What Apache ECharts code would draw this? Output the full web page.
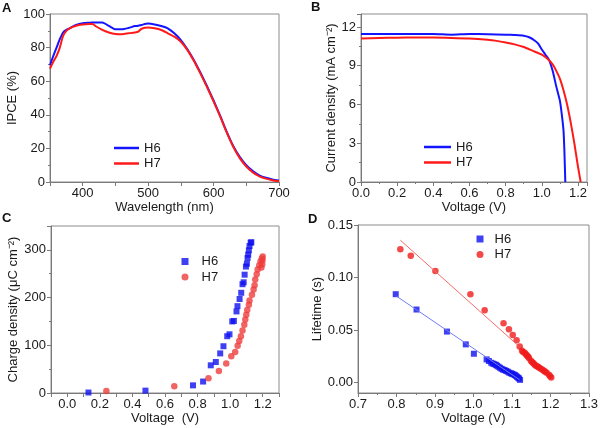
<!DOCTYPE html>
<html>
<head>
<meta charset="utf-8">
<title>IPCE / J-V / charge / lifetime</title>
<script src="https://cdn.jsdelivr.net/npm/echarts@6/dist/echarts.min.js"></script>
<style>
  html, body { margin: 0; padding: 0; background: #fff; }
  #chart { width: 600px; height: 428px; }
</style>
</head>
<body>
<div id="chart"></div>
<script>
// ---- A: IPCE spectra
var wavelength = [350, 355, 360, 365, 370, 375, 380, 390, 400, 410, 415, 420, 430, 440, 450, 460, 470, 480, 485, 490,
  500, 510, 520, 530, 540, 550, 560, 570, 580, 590, 600, 610, 620, 630, 640, 650, 660, 670, 680, 690, 700];
var ipceH6 = [69.5, 75, 80, 85, 89, 90.5, 91.5, 93.5, 94.5, 94.8, 94.9, 94.9, 94.9, 92.9, 90.9, 90.9, 91.7, 92.8, 93, 93.5,
  94.3, 93.8, 92.9, 91.5, 88.5, 84.5, 79, 72.5, 65, 57, 48.5, 39.5, 30, 21.5, 15, 10, 6.5, 4, 2.5, 1.5, 0.9];
var ipceH7 = [67.5, 71.5, 75, 80, 87, 90, 91.5, 93, 93.7, 94, 94, 92.7, 90.5, 89, 88.1, 88, 88.5, 89, 89.5, 91.2,
  92, 91.5, 90.5, 88.5, 86.5, 83.5, 78.5, 72, 64.5, 56.5, 48, 39, 29.5, 21, 14.2, 9.2, 5.7, 3.4, 2, 1.1, 0.5];

// ---- B: J-V curves
var jvVoltH6 = [0, 0.1, 0.2, 0.3, 0.4, 0.5, 0.6, 0.7, 0.8, 0.85, 0.9, 0.93, 0.96, 0.98, 1.0, 1.02, 1.04, 1.06, 1.08, 1.1, 1.11, 1.12, 1.125, 1.13];
var jvCurH6 = [11.45, 11.45, 11.46, 11.45, 11.45, 11.4, 11.45, 11.44, 11.4, 11.37, 11.32, 11.2, 10.95, 10.7, 10.25, 9.85, 9.45, 8.6, 7.4, 6.3, 5.3, 4.0, 2.4, 0];
var jvVoltH7 = [0, 0.1, 0.2, 0.3, 0.4, 0.5, 0.6, 0.7, 0.75, 0.8, 0.85, 0.9, 0.95, 1.0, 1.03, 1.06, 1.08, 1.1, 1.12, 1.14, 1.16, 1.18, 1.2, 1.215];
var jvCurH7 = [11.1, 11.15, 11.17, 11.18, 11.18, 11.15, 11.1, 11.0, 10.92, 10.8, 10.65, 10.45, 10.15, 9.85, 9.55, 9.1, 8.6, 8.0, 7.1, 6.0, 4.6, 3.0, 1.2, 0];

// ---- C: charge density
var chgVoltH6 = [0.13, 0.48, 0.772, 0.834, 0.881, 0.912, 0.939, 0.959, 0.982, 0.996, 1.013, 1.023, 1.039, 1.045, 1.058, 1.068,
  1.076, 1.083, 1.089, 1.097, 1.103, 1.107, 1.111, 1.115, 1.119, 1.126, 1.13];
var chgH6 = [1, 5, 16, 24, 58, 65, 83, 98, 119, 123, 150, 151, 171, 182, 197, 210, 228, 232, 248, 265, 271, 283, 290, 299, 308, 315, 316];
var chgVoltH7 = [0.24, 0.657, 0.867, 0.931, 0.976, 1.007, 1.031, 1.046, 1.056, 1.066, 1.076, 1.087, 1.093, 1.099, 1.105, 1.115,
  1.119, 1.134, 1.144, 1.15, 1.154, 1.163, 1.169, 1.179, 1.187, 1.192, 1.195, 1.197, 1.199, 1.2];
var chgH7 = [4, 14, 31, 46, 62, 77, 86, 99, 109, 119, 131, 143, 154, 164, 174, 185, 194, 206, 217, 226, 238, 249, 259, 268, 276,
  263, 282, 270, 278, 286];

// ---- D: electron lifetime
var lifeVoltH6 = [0.798, 0.852, 0.931, 0.98, 1.001, 1.034, 1.04, 1.046, 1.05, 1.054, 1.058, 1.061, 1.065, 1.069, 1.073, 1.077,
  1.081, 1.085, 1.089, 1.093, 1.097, 1.1, 1.104, 1.107, 1.11, 1.113, 1.116, 1.118, 1.121];
var lifeH6 = [0.0841, 0.0695, 0.0485, 0.0363, 0.0274, 0.022, 0.0205, 0.0188, 0.018, 0.0175, 0.0168, 0.016, 0.015, 0.014, 0.013,
  0.0122, 0.0118, 0.011, 0.0103, 0.0093, 0.0088, 0.0083, 0.0078, 0.0071, 0.0064, 0.0054, 0.0046, 0.0038, 0.0025];
var lifeVoltH7 = [0.81, 0.837, 0.901, 0.992, 1.029, 1.078, 1.092, 1.102, 1.112, 1.12, 1.126, 1.129, 1.133, 1.136, 1.139, 1.142,
  1.144, 1.149, 1.152, 1.155, 1.158, 1.161, 1.165, 1.168, 1.171, 1.175, 1.179, 1.183, 1.186, 1.19, 1.196, 1.199, 1.202];
var lifeH7 = [0.1269, 0.1208, 0.1061, 0.0841, 0.0688, 0.0564, 0.0507, 0.0453, 0.0402, 0.0344, 0.0303, 0.029, 0.0283, 0.027,
  0.0258, 0.0245, 0.0233, 0.0207, 0.0196, 0.0185, 0.0174, 0.0163, 0.0155, 0.0147, 0.014, 0.0131, 0.0122, 0.0112, 0.0102,
  0.0093, 0.0074, 0.006, 0.0048];
// linear fits (end points)
var fitVoltH6 = [0.80, 1.12];
var fitLifeH6 = [0.0822, 0.0025];
var fitVoltH7 = [0.81, 1.115];
var fitLifeH7 = [0.1355, 0.0355];

var BLUE = "#1414ff";
var RED = "#ff1a1a";
var FONT = "Liberation Sans, Arial, sans-serif";
var INK = "#1a1a1a";

function pairs(xs, ys) {
  return xs.map(function (x, i) { return [x, ys[i]]; });
}

// shared look of every axis
function axis(gridIndex, extra) {
  var base = {
    type: "value",
    gridIndex: gridIndex,
    nameLocation: "middle",
    nameTextStyle: { fontSize: 13, color: INK, fontFamily: FONT },
    axisLine: { show: true, onZero: false, lineStyle: { color: "#7a7a7a", width: 1 } },
    axisTick: { show: true, inside: false, length: 4, lineStyle: { color: "#7a7a7a" } },
    minorTick: { show: false, length: 2, lineStyle: { color: "#7a7a7a" } },
    axisLabel: { fontSize: 13, color: INK, fontFamily: FONT, margin: 5 },
    splitLine: { show: false }
  };
  for (var k in extra) {
    if (typeof extra[k] === "object" && base[k] && !Array.isArray(extra[k])) {
      base[k] = Object.assign({}, base[k], extra[k]);
    } else {
      base[k] = extra[k];
    }
  }
  return base;
}

function legendAt(left, top, names, iconW, iconH, textPad) {
  return {
    left: left, top: top, orient: "vertical", padding: 0,
    itemGap: 1.5, itemWidth: iconW, itemHeight: iconH,
    selectedMode: false, data: names,
    formatter: function (n) { return n.split("-")[1]; },
    textStyle: { fontSize: 13, color: INK, fontFamily: FONT, lineHeight: 14, padding: [0, 0, 0, textPad] }
  };
}

var chart = echarts.init(document.getElementById("chart"), null, { renderer: "canvas" });

var gridBase = { show: true, borderColor: "#8c8c8c", borderWidth: 1, containLabel: false, outerBoundsMode: "none" };

chart.setOption({
  animation: false,
  textStyle: { fontFamily: FONT },
  title: [
    { text: "A", left: 2, top: 2, padding: 0, textStyle: { fontSize: 13, fontWeight: "bold", color: "#111", fontFamily: FONT } },
    { text: "B", left: 311, top: 1, padding: 0, textStyle: { fontSize: 13, fontWeight: "bold", color: "#111", fontFamily: FONT } },
    { text: "C", left: 2, top: 212, padding: 0, textStyle: { fontSize: 13, fontWeight: "bold", color: "#111", fontFamily: FONT } },
    { text: "D", left: 308, top: 213, padding: 0, textStyle: { fontSize: 13, fontWeight: "bold", color: "#111", fontFamily: FONT } }
  ],
  grid: [
    Object.assign({ left: 50, top: 14, width: 229, height: 168 }, gridBase),
    Object.assign({ left: 361, top: 14, width: 226, height: 168 }, gridBase),
    Object.assign({ left: 51, top: 226, width: 228, height: 167 }, gridBase),
    Object.assign({ left: 358, top: 225, width: 231, height: 168 }, gridBase)
  ],
  legend: [
    legendAt(114, 141, [{ name: "A-H6", icon: "rect" }, { name: "A-H7", icon: "rect" }], 25, 2.5, 0),
    legendAt(424, 140, [{ name: "B-H6", icon: "rect" }, { name: "B-H7", icon: "rect" }], 27, 2.5, 0),
    legendAt(181.5, 254.5, ["C-H6", "C-H7"], 7, 7, 8),
    legendAt(476.5, 232, ["D-H6", "D-H7"], 7, 7, 6)
  ],
  xAxis: [
    axis(0, { min: 350, max: 700, interval: 50, name: "Wavelength (nm)", nameGap: 15,
      axisLabel: { formatter: function (v) { return v % 100 === 0 ? String(v) : ""; } } }),
    axis(1, { min: 0, max: 1.25, interval: 0.2, name: "Voltage (V)", nameGap: 16,
      minorTick: { show: true, splitNumber: 2 },
      axisLabel: { showMaxLabel: false, formatter: function (v) { return v.toFixed(1); } } }),
    axis(2, { min: -0.1, max: 1.3, interval: 0.1, name: "Voltage  (V)", nameGap: 16,
      axisLabel: { formatter: function (v) {
        var t = Math.round(v * 10);
        return (t >= 0 && t <= 12 && t % 2 === 0) ? v.toFixed(1) : "";
      } } }),
    axis(3, { min: 0.7, max: 1.3, interval: 0.1, name: "Voltage (V)", nameGap: 16,
      minorTick: { show: true, splitNumber: 2 },
      axisLabel: { formatter: function (v) { return v.toFixed(1); } } })
  ],
  yAxis: [
    axis(0, { min: 0, max: 100, interval: 20, name: "IPCE (%)", nameGap: 25,
      minorTick: { show: true, splitNumber: 2 } }),
    axis(1, { min: 0, max: 13, interval: 3, name: "Current density (mA cm⁻²)", nameGap: 16,
      minorTick: { show: true, splitNumber: 2 },
      axisLabel: { showMaxLabel: false } }),
    axis(2, { min: 0, max: 350, interval: 100, name: "Charge density (μC cm⁻²)", nameGap: 23,
      minorTick: { show: true, splitNumber: 2 },
      axisLabel: { showMaxLabel: false } }),
    axis(3, { min: -0.01, max: 0.15, name: "Lifetime (s)", nameGap: 27,
      axisTick: { customValues: [0, 0.05, 0.1, 0.15] },
      axisLabel: { customValues: [0, 0.05, 0.1, 0.15], formatter: function (v) { return v.toFixed(2); } } })
  ],
  series: [
    { name: "A-H6", type: "line", xAxisIndex: 0, yAxisIndex: 0, data: pairs(wavelength, ipceH6),
      symbol: "none", smooth: 0.2, color: BLUE, lineStyle: { width: 2, color: BLUE } },
    { name: "A-H7", type: "line", xAxisIndex: 0, yAxisIndex: 0, data: pairs(wavelength, ipceH7),
      symbol: "none", smooth: 0.2, color: RED, lineStyle: { width: 2, color: RED } },

    { name: "B-H6", type: "line", xAxisIndex: 1, yAxisIndex: 1, data: pairs(jvVoltH6, jvCurH6),
      symbol: "none", smooth: 0.2, color: BLUE, lineStyle: { width: 2, color: BLUE } },
    { name: "B-H7", type: "line", xAxisIndex: 1, yAxisIndex: 1, data: pairs(jvVoltH7, jvCurH7),
      symbol: "none", smooth: 0.2, color: RED, lineStyle: { width: 2, color: RED } },

    { name: "C-H6", type: "scatter", xAxisIndex: 2, yAxisIndex: 2, data: pairs(chgVoltH6, chgH6),
      symbol: "rect", symbolSize: 6, itemStyle: { color: "#1010f0" } },
    { name: "C-H7", type: "scatter", xAxisIndex: 2, yAxisIndex: 2, data: pairs(chgVoltH7, chgH7),
      symbol: "circle", symbolSize: 6.5, itemStyle: { color: "#ef3c3c" } },

    // fit lines first so the markers sit on top
    { name: "fitH6", type: "line", xAxisIndex: 3, yAxisIndex: 3, data: pairs(fitVoltH6, fitLifeH6),
      symbol: "none", silent: true, lineStyle: { width: 1, color: "#6f7cf2" } },
    { name: "fitH7", type: "line", xAxisIndex: 3, yAxisIndex: 3, data: pairs(fitVoltH7, fitLifeH7),
      symbol: "none", silent: true, lineStyle: { width: 1, color: "#f56a6a" } },
    { name: "D-H6", type: "scatter", xAxisIndex: 3, yAxisIndex: 3, data: pairs(lifeVoltH6, lifeH6),
      symbol: "rect", symbolSize: 6, itemStyle: { color: "#1010f0" } },
    { name: "D-H7", type: "scatter", xAxisIndex: 3, yAxisIndex: 3, data: pairs(lifeVoltH7, lifeH7),
      symbol: "circle", symbolSize: 6.5, itemStyle: { color: "#f01c1c" } }
  ]
});
</script>
</body>
</html>
